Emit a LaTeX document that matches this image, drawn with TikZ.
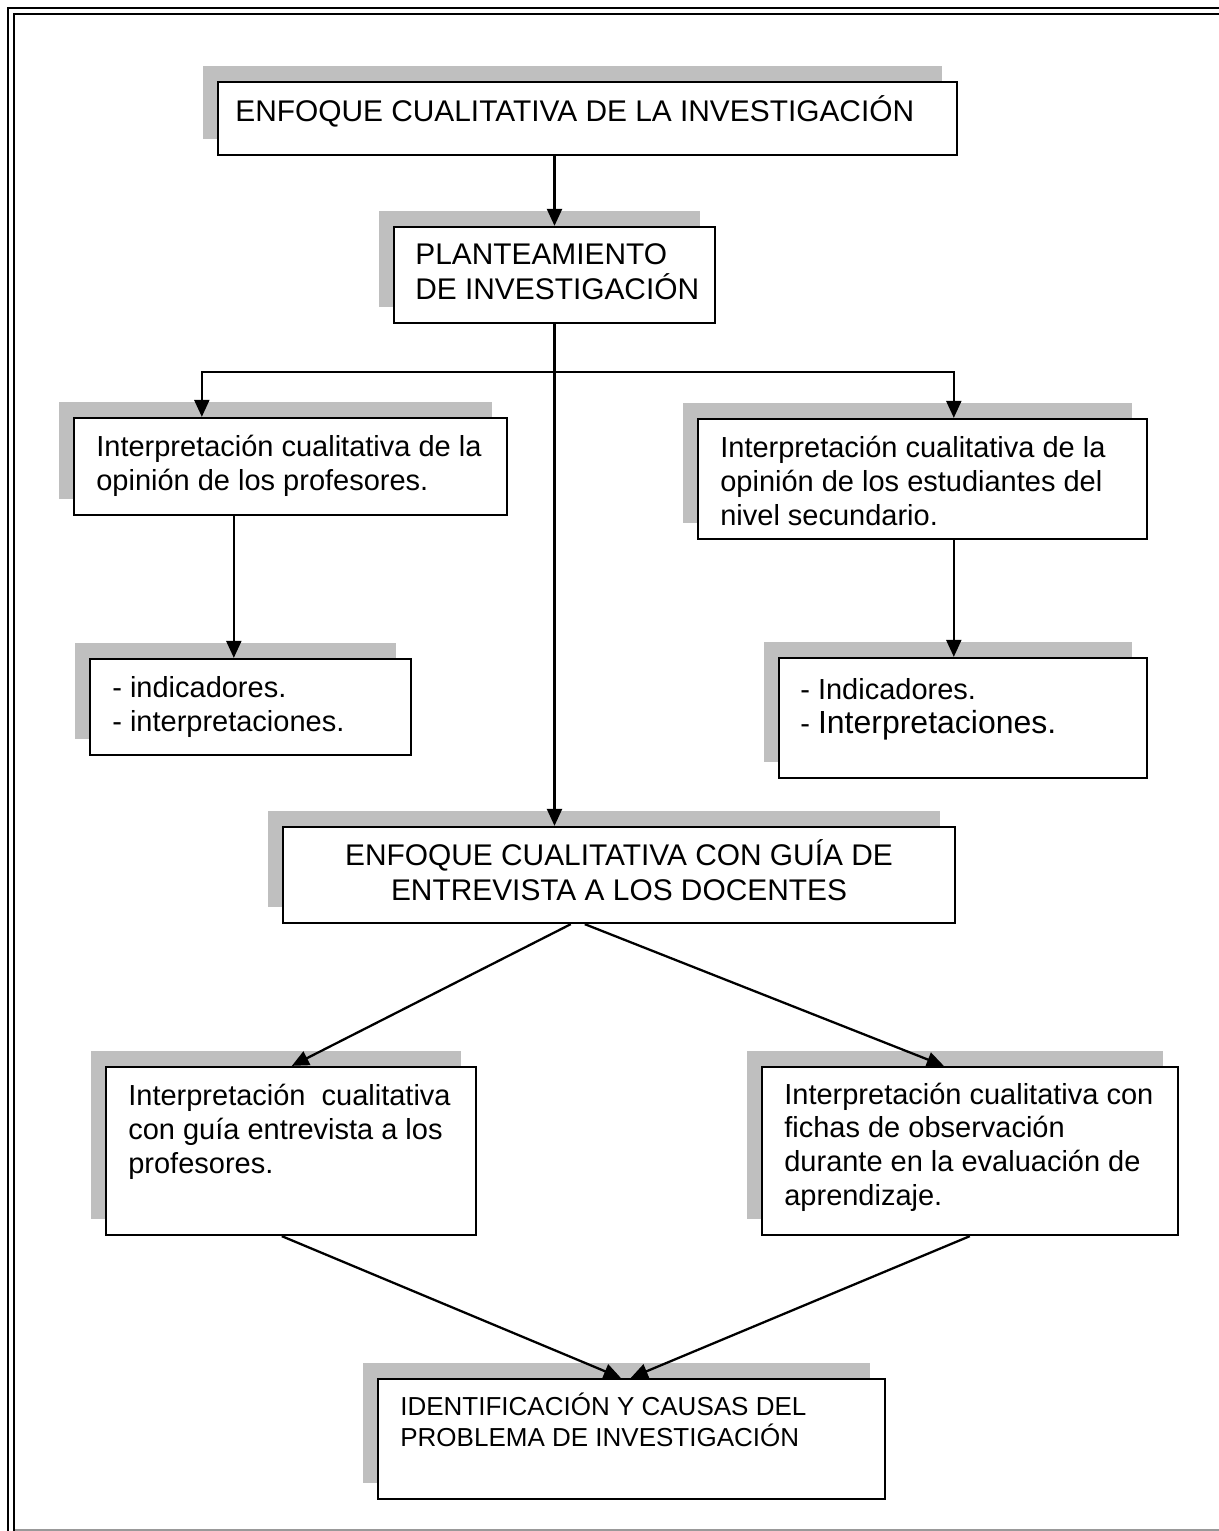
\documentclass[tikz,border=0pt]{standalone}
\usepackage{fontspec}
\setmainfont{Liberation Sans}
\usetikzlibrary{arrows.meta,fit,shadows}

\begin{document}
\begin{tikzpicture}[x=0.02cm, y=-0.02cm,
  frame/.style={draw, line width=1.3pt, fill=white, inner sep=0pt,
    general shadow={fill=black!25, shadow xshift=-0.3cm, shadow yshift=0.32cm}},
  txt/.style={anchor=base west, align=left, inner sep=0pt, font=\fontsize{16.5}{19.1}\selectfont},
  caps/.style={txt, font=\fontsize{17}{19.6}\selectfont},
  link/.style={line width=1.3pt, -{Triangle[length=0.34cm, width=0.3cm]}}]
\useasboundingbox (0,0) rectangle (1219,1531);
% page frame
\draw[line width=1.5pt] (8,1560) |- (1240,8);
\draw[line width=1.5pt] (14,1560) |- (1240,14);
\draw[black!40, line width=0.6pt] (15,1530) -- (1240,1530);
% boxes
\foreach \n/\xa/\ya/\xb/\yb in {top/218/82/957/155, plan/394/227/715/323, profs/74/418/507/515, indprof/90/659/411/755, estud/698/419/1147/539, indestud/779/658/1147/778, guia/283/827/955/923, entprof/106/1067/476/1235, fichas/762/1067/1178/1235, causas/378/1379/885/1499}
  {\node[frame, fit={(\xa,\ya) (\xb,\yb)}] (\n) {};}
% texts (anchored on the baseline of the last line)
\node[caps] (top-t) at (235,121) {ENFOQUE CUALITATIVA DE LA INVESTIGACIÓN};
\node[caps] (plan-t) at (415,299) {PLANTEAMIENTO\\DE INVESTIGACIÓN};
\node[txt] (profs-t) at (96,490) {Interpretación cualitativa de la\\opinión de los profesores.};
\node[txt] (indprof-t) at (112,731) {- indicadores.\\- interpretaciones.};
\node[txt] (estud-t) at (720,525) {Interpretación cualitativa de la\\opinión de los estudiantes del\\nivel secundario.};
\node[txt] (indestud-t) at (800,733) {- Indicadores.\\- {\fontsize{18.2}{20}\selectfont Interpretaciones.}};
\node[caps, anchor=base, align=center] (guia-t) at (619,900) {ENFOQUE CUALITATIVA CON GUÍA DE\\ENTREVISTA A LOS DOCENTES};
\node[txt] (entprof-t) at (128,1173) {Interpretación\ \ cualitativa\\con guía entrevista a los\\profesores.};
\node[txt] (fichas-t) at (784,1205) {Interpretación cualitativa con\\fichas de observación\\durante en la evaluación de\\aprendizaje.};
\node[txt, font=\fontsize{14.8}{17.1}\selectfont] (causas-t) at (400,1446) {IDENTIFICACIÓN Y CAUSAS DEL\\PROBLEMA DE INVESTIGACIÓN};
% connectors
\coordinate (fork) at (555,372);
\draw[link] (top.south -| plan.north) -- (plan.north);
\draw[link] (plan.south) -- (plan.south |- guia.north);
\draw[link] (fork) -| ([xshift=2.58cm]profs.north west);
\draw[link] (fork) -| ([xshift=5.14cm]estud.north west);
\draw[link] ([xshift=3.22cm]profs.south west) coordinate (c1) -- (c1 |- indprof.north);
\draw[link] ([xshift=5.14cm]estud.south west) coordinate (d1) -- (d1 |- indestud.north);
\draw[link] ([xshift=5.78cm]guia.south west) -- ([xshift=3.74cm]entprof.north west);
\draw[link] ([xshift=6.06cm]guia.south west) -- ([xshift=3.66cm]fichas.north west);
\draw[link] ([xshift=3.54cm]entprof.south west) -- ([xshift=4.88cm]causas.north west);
\draw[link] ([xshift=4.18cm]fichas.south west) -- ([xshift=5.08cm]causas.north west);
\end{tikzpicture}
\end{document}
